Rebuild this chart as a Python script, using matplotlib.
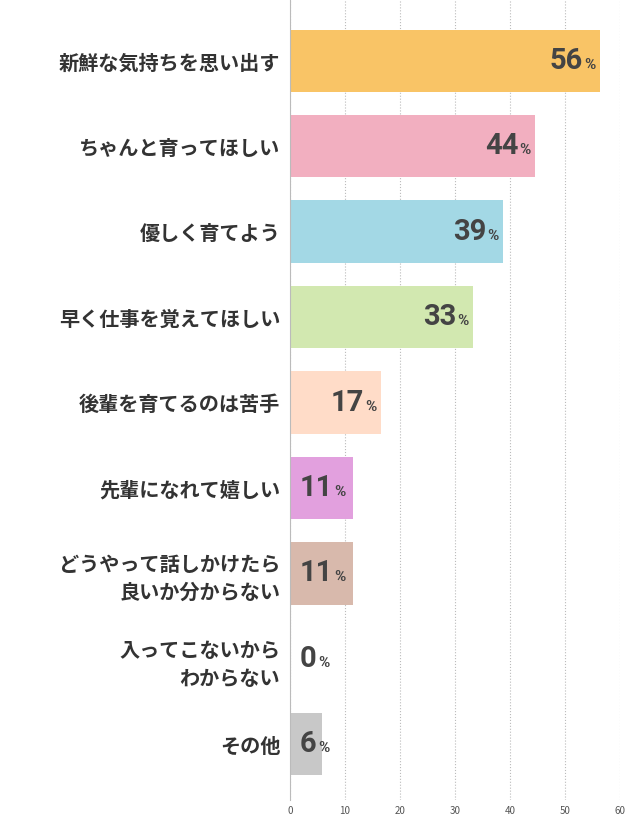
import matplotlib
matplotlib.use("Agg")
import matplotlib.pyplot as plt
from matplotlib.offsetbox import TextArea, HPacker, AnnotationBbox

plt.rcParams['font.family'] = ['Noto Sans CJK JP', 'DejaVu Sans']

categories = ["新鮮な気持ちを思い出す", "ちゃんと育ってほしい", "優しく育てよう", "早く仕事を覚えてほしい",
              "後輩を育てるのは苦手", "先輩になれて嬉しい", "どうやって話しかけたら\n良いか分からない",
              "入ってこないから\nわからない", "その他"]
values = [56.3, 44.6, 38.8, 33.3, 16.5, 11.4, 11.5, 0, 5.8]
labels = ["56", "44", "39", "33", "17", "11", "11", "0", "6"]
colors = ["#F9C466", "#F2AFC0", "#A3D8E5", "#D2E8B0", "#FFDCC8", "#E2A0DE", "#D8B9AC", "#FFFFFF", "#C8C8C8"]
ticks = [0, 10, 20, 30, 40, 50, 60]

fig = plt.figure(figsize=(6.28, 8.24), dpi=100)
ax = fig.add_axes([290/628, 1-800/824, 330/628, 800/824])
y = list(range(len(categories)))
ax.barh(y, values, height=0.73, color=colors)
ax.set_ylim(8.5 + 13/85.4, -0.5 - 18/85.4)
ax.set_xlim(0, 60)
ax.set_xticks(ticks)
ax.tick_params(axis='x', labelsize=7, colors='#555555', length=0, pad=4)
ax.set_yticks(y)
ax.set_yticklabels(categories, fontsize=14.5, fontweight='bold', color='#333333', linespacing=1.4)
ax.tick_params(axis='y', length=0, pad=7)
ax.grid(axis='x', linestyle=':', color='#BBBBBB', linewidth=0.8)
ax.set_axisbelow(True)
for s in ['top', 'right', 'bottom']:
    ax.spines[s].set_visible(False)
ax.spines['left'].set_color('#BBBBBB')

numfont = ['Liberation Sans Narrow', 'Roboto']
for i, (v, l) in enumerate(zip(values, labels)):
    num = TextArea(l, textprops=dict(fontsize=21, fontweight='bold', color='#444444', family=numfont))
    pct = TextArea("%", textprops=dict(fontsize=11, fontweight='bold', color='#444444', family=numfont))
    box = HPacker(children=[num, pct], align='baseline', pad=0, sep=1)
    if v <= 12:
        ab = AnnotationBbox(box, (1.8, i), box_alignment=(0, 0.5), frameon=False, pad=0)
    else:
        ab = AnnotationBbox(box, (v - 0.8, i), box_alignment=(1, 0.5), frameon=False, pad=0)
    ax.add_artist(ab)

fig.savefig("out.png", dpi=100)
